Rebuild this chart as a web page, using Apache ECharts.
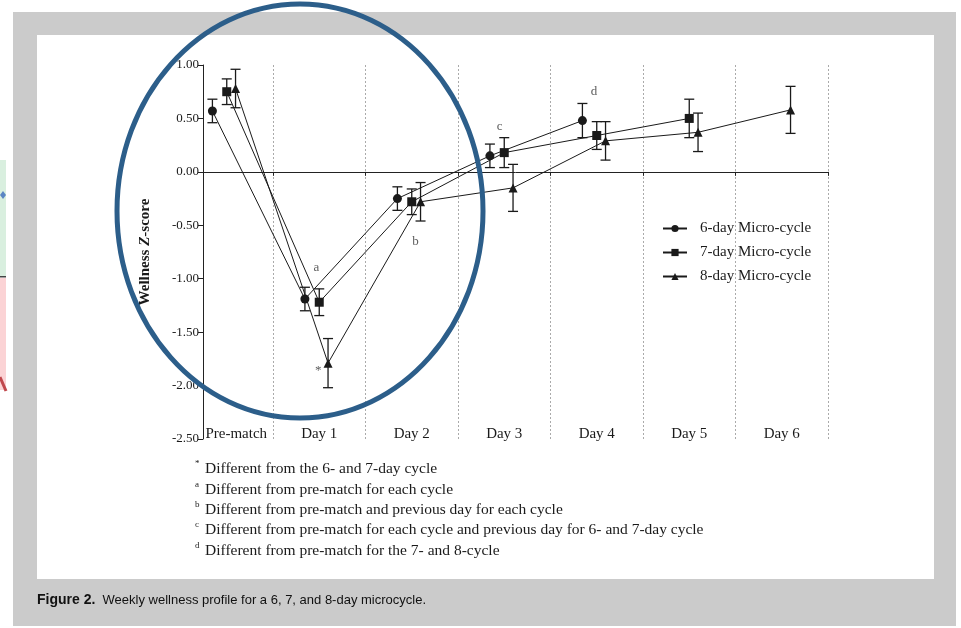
<!DOCTYPE html>
<html>
<head>
<meta charset="utf-8">
<script src="https://cdn.jsdelivr.net/npm/echarts@6/dist/echarts.min.js"></script>
<style>
html,body{margin:0;padding:0;background:#fff;}
#chart{width:961px;height:628px;}
</style>
</head>
<body>
<div id="chart"></div>
<script>
// ---- data ----
const categories = ['Pre-match', 'Day 1', 'Day 2', 'Day 3', 'Day 4', 'Day 5', 'Day 6'];
const seriesNames = ['6-day Micro-cycle', '7-day Micro-cycle', '8-day Micro-cycle'];
const mean6 = [0.57, -1.19, -0.25, 0.15, 0.48];
const err6  = [0.11, 0.11, 0.11, 0.11, 0.16];
const mean7 = [0.75, -1.22, -0.28, 0.18, 0.34, 0.50];
const err7  = [0.12, 0.125, 0.12, 0.14, 0.13, 0.18];
const mean8 = [0.78, -1.79, -0.28, -0.15, 0.29, 0.37, 0.58];
const err8  = [0.18, 0.23, 0.18, 0.22, 0.18, 0.18, 0.22];
const annotationText = ['a', '*', 'b', 'c', 'd'];
const annotationX    = [1.47, 1.49, 2.54, 3.45, 4.47];
const annotationY    = [-0.90, -1.86, -0.655, 0.42, 0.75];
const footnoteMarks = ['*', 'a', 'b', 'c', 'd'];
const footnotes = [
  'Different from the 6- and 7-day cycle',
  'Different from pre-match for each cycle',
  'Different from pre-match and previous day for each cycle',
  'Different from pre-match for each cycle and previous day for 6- and 7-day cycle',
  'Different from pre-match for the 7- and 8-cycle'
];
const yMin = -2.5, yMax = 1, yStep = 0.5;

// ---- layout ----
const BAND = 92.5, BAND_LEFT = 180.5, AXIS_LEFT = 203, TOP = 65, H = 374;
const PLOT_RIGHT = BAND_LEFT + BAND * categories.length;
const xMinVal = (AXIS_LEFT - BAND_LEFT) / BAND;
const offsets = [0.345, 0.50, 0.595];
const symbols = ['circle', 'rect', 'triangle'];
const serif = '"Liberation Serif", "DejaVu Serif", serif';
const sans = '"Liberation Sans", Arial, sans-serif';
const INK = '#1a1a1a';

const means = [mean6, mean7, mean8];
const errs = [err6, err7, err8];

const series = [];
means.forEach((m, s) => {
  series.push({
    name: seriesNames[s], type: 'line', xAxisIndex: 0, yAxisIndex: 0,
    data: m.map((v, i) => [i + offsets[s], v]),
    symbol: symbols[s], symbolSize: 9, showSymbol: true,
    lineStyle: {color: INK, width: 1}, itemStyle: {color: INK},
    emphasis: {disabled: true}, z: 5, animation: false
  });
  series.push({
    type: 'custom', xAxisIndex: 0, yAxisIndex: 0, z: 4, silent: true,
    data: m.map((v, i) => [i + offsets[s], v - errs[s][i], v + errs[s][i]]),
    renderItem: function (params, api) {
      const x = api.value(0);
      const pLo = api.coord([x, api.value(1)]);
      const pHi = api.coord([x, api.value(2)]);
      const hw = 5;
      const st = {stroke: INK, lineWidth: 1.3};
      return {type: 'group', children: [
        {type: 'line', shape: {x1: pLo[0], y1: pLo[1], x2: pHi[0], y2: pHi[1]}, style: st},
        {type: 'line', shape: {x1: pLo[0] - hw, y1: pLo[1], x2: pLo[0] + hw, y2: pLo[1]}, style: st},
        {type: 'line', shape: {x1: pHi[0] - hw, y1: pHi[1], x2: pHi[0] + hw, y2: pHi[1]}, style: st}
      ]};
    },
    animation: false
  });
});
series.push({
  type: 'scatter', xAxisIndex: 0, yAxisIndex: 0, symbolSize: 0, silent: true,
  data: annotationText.map((t, i) => ({name: t, value: [annotationX[i], annotationY[i]]})),
  label: {show: true, position: 'inside', formatter: p => p.name,
          fontFamily: serif, fontSize: 13, color: '#333'},
  animation: false
});

const graphics = [
  // outer grey frame and white page
  {type: 'rect', shape: {x: 13, y: 12, width: 943, height: 614}, style: {fill: '#cbcbcb'}, z: -10},
  {type: 'rect', shape: {x: 37, y: 35, width: 897, height: 544}, style: {fill: '#ffffff'}, z: -9},
  // slice of a neighbouring image on the far left
  {type: 'rect', shape: {x: 0, y: 160, width: 6, height: 117}, style: {fill: '#d9efdf'}, z: -9},
  {type: 'rect', shape: {x: 0, y: 276, width: 6, height: 1.5}, style: {fill: '#444'}, z: -8},
  {type: 'rect', shape: {x: 0, y: 278, width: 6, height: 112}, style: {fill: '#fbd3d5'}, z: -9},
  {type: 'line', shape: {x1: 0, y1: 377, x2: 6, y2: 391}, style: {stroke: '#c0474c', lineWidth: 3}, z: -8},
  {type: 'polygon', shape: {points: [[3, 191], [6, 195], [3, 199], [0, 195]]}, style: {fill: '#5b86c4'}, z: -8},
  // caption
  {type: 'text', left: 37, top: 593, z: 10, style: {
    text: '{b|Figure 2.}  Weekly wellness profile for a 6, 7, and 8-day microcycle.',
    font: '13px ' + sans, fill: '#111',
    rich: {b: {fontWeight: 'bold', fontFamily: sans, fontSize: 14, fill: '#111'}}
  }},
  // the hand-drawn emphasis ellipse
  {type: 'ellipse', shape: {cx: 300, cy: 211, rx: 183, ry: 207}, z: 100,
   style: {fill: 'none', stroke: '#2c5e8a', lineWidth: 5}}
];
const fnTop = [461, 482, 502, 522, 543];
footnotes.forEach((t, i) => {
  graphics.push({type: 'text', left: 195, top: fnTop[i] - 2, z: 10,
    style: {text: footnoteMarks[i], font: '9px ' + serif, fill: INK}});
  graphics.push({type: 'text', left: 205, top: fnTop[i], z: 10,
    style: {text: t, font: '15.5px ' + serif, fill: INK}});
});

const option = {
  backgroundColor: '#ffffff',
  animation: false,
  textStyle: {fontFamily: serif},
  grid: [
    {left: AXIS_LEFT, top: TOP, width: PLOT_RIGHT - AXIS_LEFT, height: H, containLabel: false},
    {left: BAND_LEFT, top: TOP, width: PLOT_RIGHT - BAND_LEFT, height: H, containLabel: false},
    {left: BAND_LEFT, top: TOP, width: PLOT_RIGHT - BAND_LEFT, height: H, containLabel: false}
  ],
  xAxis: [
    {type: 'value', gridIndex: 0, min: xMinVal, max: categories.length,
     axisLine: {show: true, onZero: true, lineStyle: {color: '#222', width: 1}},
     axisTick: {show: false}, axisLabel: {show: false}, splitLine: {show: false}},
    {type: 'category', gridIndex: 1, data: categories, boundaryGap: true,
     axisLine: {show: false, onZero: true},
     axisTick: {show: true, length: 4, interval: (i) => i > 0, lineStyle: {color: '#222'}},
     axisLabel: {show: false},
     splitLine: {show: true, interval: (i) => i > 0, lineStyle: {color: '#aaa', type: [2, 2], width: 1}}},
    {type: 'category', gridIndex: 2, data: categories, boundaryGap: true, position: 'bottom',
     axisLine: {show: false}, axisTick: {show: false}, splitLine: {show: false},
     axisLabel: {show: true, interval: 0, margin: -12, fontFamily: serif, fontSize: 15, color: INK,
       formatter: (v, i) => i === 0 ? '{pm|' + v + '}' : v,
       rich: {pm: {padding: [0, 0, 0, 19], fontFamily: serif, fontSize: 15, color: INK}}}}
  ],
  yAxis: [
    {type: 'value', gridIndex: 0, min: yMin, max: yMax, interval: yStep,
     name: 'Wellness {z|Z}-score', nameLocation: 'middle', nameGap: 50,
     nameTextStyle: {fontFamily: serif, fontSize: 15, fontWeight: 'bold', color: INK,
       rich: {z: {fontFamily: serif, fontSize: 15, fontWeight: 'bold', fontStyle: 'italic', color: INK}}},
     axisLine: {show: true, lineStyle: {color: '#222', width: 1}},
     axisTick: {show: true, length: 5, lineStyle: {color: '#222'}},
     axisLabel: {margin: 4, fontFamily: serif, fontSize: 13, color: INK, formatter: v => v.toFixed(2)},
     splitLine: {show: false}},
    {type: 'value', gridIndex: 1, min: yMin, max: yMax, interval: yStep, show: false},
    {type: 'value', gridIndex: 2, min: yMin, max: yMax, interval: yStep, show: false}
  ],
  legend: {
    orient: 'vertical', left: 657, top: 216, itemWidth: 24, itemHeight: 9, itemGap: 9,
    data: seriesNames, selectedMode: false,
    textStyle: {fontFamily: serif, fontSize: 15, color: INK, padding: [0, 0, 0, 8]}
  },
  graphic: graphics,
  series: series
};

const chart = echarts.init(document.getElementById('chart'), null, {renderer: 'canvas'});
chart.setOption(option);
</script>
</body>
</html>
